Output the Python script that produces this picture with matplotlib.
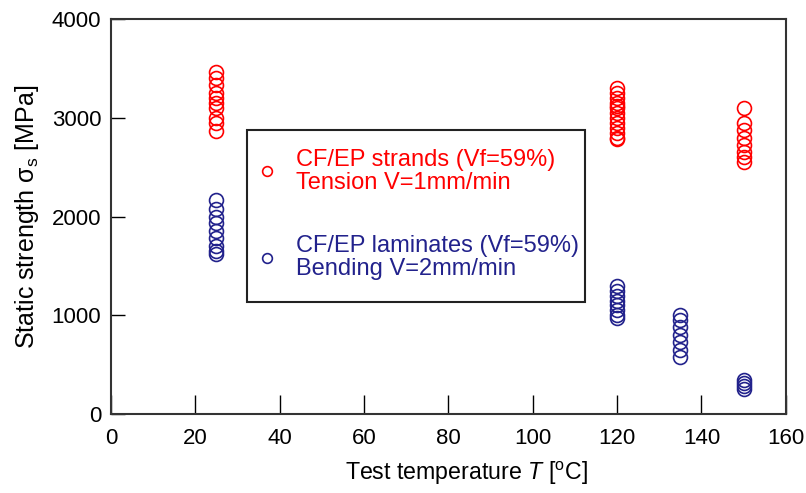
import matplotlib
matplotlib.use("Agg")
import matplotlib.pyplot as plt
from matplotlib.patches import Rectangle

# strands (tension) - red
strand_T = [25] * 10 + [120] * 13 + [150] * 8
strand_S = [3460, 3400, 3330, 3250, 3200, 3150, 3100, 3000, 2950, 2870,
            3300, 3250, 3200, 3150, 3120, 3100, 3050, 3000, 2950, 2900, 2850, 2800, 2780,
            3100, 2950, 2880, 2800, 2720, 2650, 2600, 2550]

# laminates (bending) - blue
lam_T = [25] * 9 + [120] * 8 + [135] * 7 + [150] * 4
lam_S = [2170, 2080, 2000, 1930, 1850, 1780, 1700, 1650, 1620,
         1300, 1250, 1200, 1150, 1100, 1050, 1000, 970,
         1000, 950, 880, 800, 730, 650, 580,
         350, 320, 280, 250]

labels = ["CF/EP strands (Vf=59%)\nTension V=1mm/min",
          "CF/EP laminates (Vf=59%)\nBending V=2mm/min"]
red = "#ff0000"
blue = "#22228c"

plt.rcParams['font.family'] = ['Liberation Sans', 'DejaVu Sans']
plt.rcParams['mathtext.fontset'] = 'custom'
plt.rcParams['mathtext.rm'] = 'Liberation Sans'
plt.rcParams['mathtext.it'] = 'Liberation Sans:italic'

fig = plt.figure(figsize=(8.06, 4.93), dpi=100)
ax = fig.add_axes([0.1377, 0.160, 0.8373, 0.8015])

ax.plot(strand_T, strand_S, 'o', ms=10, mfc='none', mec=red, mew=1.2, ls='none')
ax.plot(lam_T, lam_S, 'o', ms=10, mfc='none', mec=blue, mew=1.2, ls='none')

ax.set_xlim(0, 160)
ax.set_ylim(0, 4000)
ax.set_xticks(range(0, 161, 20))
ax.set_yticks(range(0, 4001, 1000))

for s in ax.spines.values():
    s.set_linewidth(1.5)
    s.set_color('#333333')

ax.tick_params(axis='x', direction='in', length=14, width=1, pad=10, labelsize=16)
ax.tick_params(axis='y', direction='in', length=10, width=1, pad=7, labelsize=16)

ax.set_xlabel('Test temperature $T$ [$^{\\rm o}$C]', fontsize=16.7)
ax.xaxis.set_label_coords(0.526, -0.115)
ax.set_ylabel('Static strength σ$_{\\rm s}$ [MPa]', fontsize=18, labelpad=8)

# legend box drawn by hand
ax.add_patch(Rectangle((0.2015, 0.2835), 0.5005, 0.4355, transform=ax.transAxes,
                       fill=False, ec='#222222', lw=1.5, zorder=5))
for lab, c, yc in zip(labels, [red, blue], [0.615, 0.396]):
    ax.plot([0.231], [yc], 'o', ms=7, mfc='none', mec=c, mew=1.2,
            transform=ax.transAxes, clip_on=False)
    ax.text(0.274, yc, lab, color=c, fontsize=17, va='center', ha='left',
            linespacing=1.05, transform=ax.transAxes)

fig.savefig('out.png', dpi=100)
